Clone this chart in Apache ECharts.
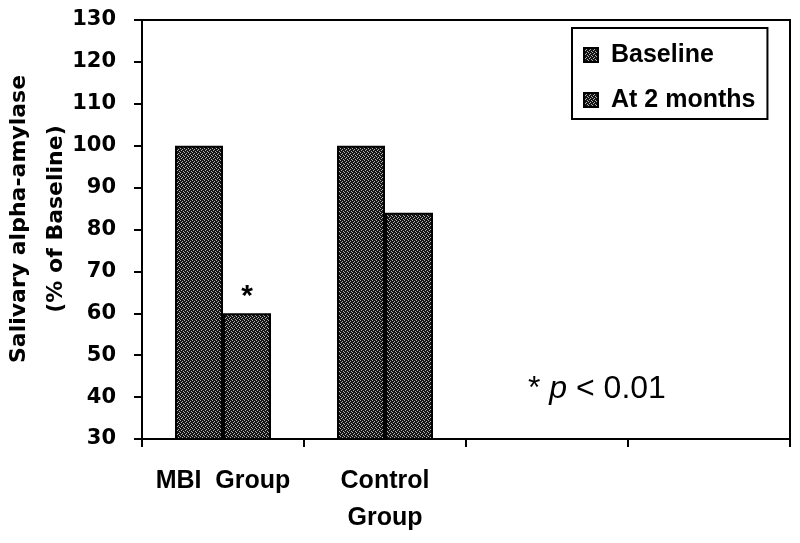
<!DOCTYPE html>
<html>
<head>
<meta charset="utf-8">
<script src="https://cdn.jsdelivr.net/npm/echarts@6/dist/echarts.min.js"></script>
<style>
  html, body { margin: 0; padding: 0; background: #fff; }
  #chart { width: 800px; height: 543px; }
</style>
</head>
<body>
<div id="chart"></div>
<script>
const categories = ["MBI  Group", "Control\nGroup", "", ""];
const baseline = [100, 100, null, null];
const atTwoMonths = [60, 84, null, null];
const significant = [true, false, false, false];
const seriesNames = ["Baseline", "At 2 months"];

// dark dotted fill like the printed bars
function makeTexture() {
  const c = document.createElement("canvas");
  c.width = 4;
  c.height = 4;
  const ctx = c.getContext("2d");
  ctx.fillStyle = "#141414";
  ctx.fillRect(0, 0, 4, 4);
  ctx.fillStyle = "#b0b0b0";
  [[0, 0], [2, 1], [1, 2], [3, 3]].forEach(([x, y]) => ctx.fillRect(x, y, 1, 1));
  return c;
}
const fill = { image: makeTexture(), repeat: "repeat" };

const chart = echarts.init(document.getElementById("chart"));

chart.setOption({
  backgroundColor: "#fff",
  animation: false,
  grid: {
    left: 142, right: 10, top: 20, bottom: 104,
    show: true, borderColor: "#000", borderWidth: 2,
  },
  legend: {
    data: seriesNames,
    orient: "vertical",
    left: 572,
    top: 28,
    padding: [12, 12, 4, 11],
    itemGap: 15,
    itemWidth: 14,
    itemHeight: 14,
    icon: "rect",
    borderColor: "#000",
    borderWidth: 2,
    backgroundColor: "#fff",
    textStyle: {
      fontFamily: "Liberation Sans", fontWeight: "bold", fontSize: 25,
      color: "#000", lineHeight: 30, padding: [0, 0, 0, 8],
    },
  },
  xAxis: {
    type: "category",
    data: categories,
    axisLine: { lineStyle: { color: "#000", width: 2 } },
    axisTick: { show: true, length: 8, lineStyle: { color: "#000", width: 2 } },
    axisLabel: {
      interval: 0, margin: 24, color: "#000",
      fontFamily: "Liberation Sans", fontWeight: "bold", fontSize: 25, lineHeight: 37,
    },
    splitLine: { show: false },
  },
  yAxis: {
    type: "value",
    min: 30, max: 130, interval: 10,
    axisLine: { show: true, lineStyle: { color: "#000", width: 2 } },
    axisTick: { show: true, length: 8, lineStyle: { color: "#000", width: 2 } },
    axisLabel: {
      margin: 26, color: "#000",
      fontFamily: "DejaVu Sans", fontWeight: "bold", fontSize: 21,
    },
    splitLine: { show: false },
  },
  series: [
    {
      name: seriesNames[0],
      type: "bar",
      data: baseline,
      barWidth: 48,
      barGap: "0%",
      itemStyle: { color: fill, borderColor: "#000", borderWidth: 2 },
    },
    {
      name: seriesNames[1],
      type: "bar",
      data: atTwoMonths.map((v, i) => ({
        value: v,
        label: {
          show: significant[i], position: "top", distance: 2, formatter: "*",
          fontFamily: "Liberation Sans", fontWeight: "bold", fontSize: 30, color: "#000",
        },
      })),
      barWidth: 48,
      itemStyle: { color: fill, borderColor: "#000", borderWidth: 2 },
    },
  ],
  graphic: [
    {
      type: "text",
      x: 38, y: 219,
      rotation: Math.PI / 2,
      style: {
        text: "Salivary alpha-amylase\n(% of Baseline)",
        fontFamily: "DejaVu Sans", fontWeight: "bold", fontSize: 22,
        lineHeight: 37, fill: "#000", align: "center", verticalAlign: "middle",
      },
    },
    {
      type: "text",
      x: 528, y: 389,
      style: {
        text: "* {i|p} < 0.01",
        fontFamily: "Liberation Sans", fontSize: 32, fill: "#000",
        verticalAlign: "middle",
        rich: { i: { fontFamily: "Liberation Sans", fontSize: 32, fontStyle: "italic" } },
      },
    },
  ],
});
</script>
</body>
</html>
